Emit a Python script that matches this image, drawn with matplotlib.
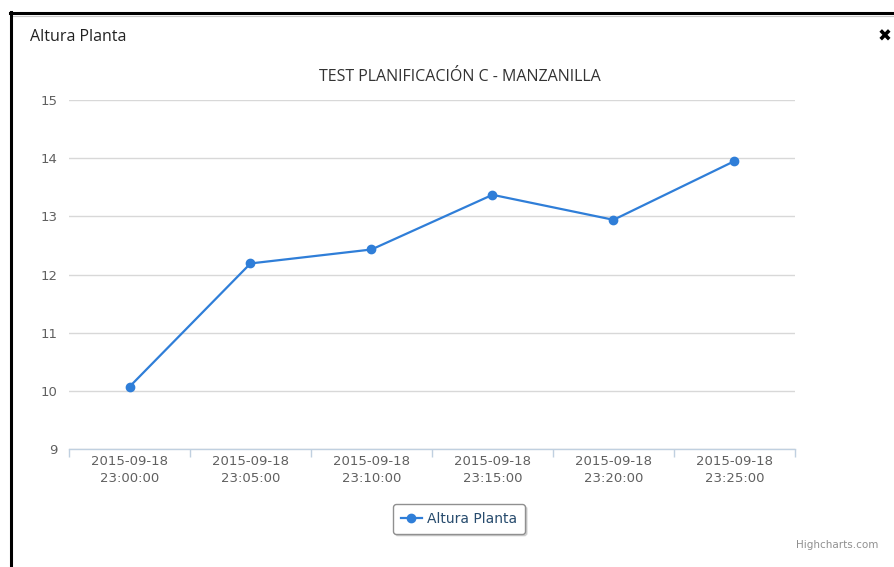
import matplotlib.pyplot as plt
from matplotlib.lines import Line2D

# data
categories = ['2015-09-18\n23:00:00', '2015-09-18\n23:05:00', '2015-09-18\n23:10:00',
              '2015-09-18\n23:15:00', '2015-09-18\n23:20:00', '2015-09-18\n23:25:00']
altura = [10.07, 12.19, 12.43, 13.37, 12.94, 13.95]
y_ticks = [9, 10, 11, 12, 13, 14, 15]

LINE = '#2f7ed8'
GRID = '#d8d8d8'
AXIS = '#c0d0e0'
TXT = '#606060'

W, H = 895, 567
fig = plt.figure(figsize=(W / 100, H / 100), dpi=100)
fig.patch.set_facecolor('white')

# plot area in pixel coords of the reference
x0, x1, ytop, ybot = 69, 795, 100, 449
ax = fig.add_axes([x0 / W, 1 - ybot / H, (x1 - x0) / W, (ybot - ytop) / H])

xs = list(range(len(categories)))
ax.plot(xs, altura, color=LINE, lw=1.6, marker='o', ms=6, zorder=3,
        label='Altura Planta')

ax.set_xlim(-0.5, len(categories) - 0.5)
ax.set_ylim(9, 15)
ax.set_yticks(y_ticks)
ax.set_yticklabels([str(t) for t in y_ticks])
ax.grid(axis='y', color=GRID, lw=1)
ax.set_axisbelow(True)

for s in ['top', 'right', 'left']:
    ax.spines[s].set_visible(False)
ax.spines['bottom'].set_color(AXIS)
ax.spines['bottom'].set_linewidth(1)

# category labels centred, tick marks on the boundaries
ax.set_xticks(xs)
ax.set_xticklabels(categories, fontsize=9.5, color=TXT, linespacing=1.4)
ax.tick_params(axis='x', length=0, pad=4)
ax.set_xticks([i - 0.5 for i in range(len(categories) + 1)], minor=True)
ax.tick_params(axis='x', which='minor', length=6, color=AXIS, width=1)
ax.tick_params(axis='y', length=0, labelsize=9.5, labelcolor=TXT, pad=8)

fig.text(460 / W, 1 - 77 / H, 'TEST PLANIFICACIÓN C - MANZANILLA',
         ha='center', va='center', fontsize=11.5, color='#333333', family='Open Sans')

leg = fig.legend(loc='center', bbox_to_anchor=(459 / W, 1 - 519 / H), fontsize=10,
                 frameon=True, fancybox=True,
                 shadow={'color': '#999999', 'alpha': 0.35, 'ox': 1.5, 'oy': -1.5},
                 edgecolor='#909090', framealpha=1,
                 handlelength=1.5, handletextpad=0.4, borderpad=0.55)
for t in leg.get_texts():
    t.set_color('#274b6d')

fig.text(878 / W, 1 - 545 / H, 'Highcharts.com', ha='right', va='center',
         fontsize=7.5, color='#909090')

# modal window chrome
fig.text(30 / W, 1 - 37 / H, 'Altura Planta', ha='left', va='center',
         fontsize=11.5, color='#222222', family='Open Sans')
fig.text(885 / W, 1 - 37 / H, '✖', ha='center', va='center',
         fontsize=12, color='black', family='DejaVu Sans')
fig.add_artist(Line2D([10 / W, 1], [1 - 13 / H, 1 - 13 / H], color='black', lw=2.2))
fig.add_artist(Line2D([11 / W, 1], [1 - 15.5 / H, 1 - 15.5 / H], color='#c8c8c8', lw=0.8))
fig.add_artist(Line2D([11 / W, 11 / W], [0, 1 - 12 / H], color='black', lw=2.2))

fig.savefig('out.png', dpi=100, facecolor='white')
